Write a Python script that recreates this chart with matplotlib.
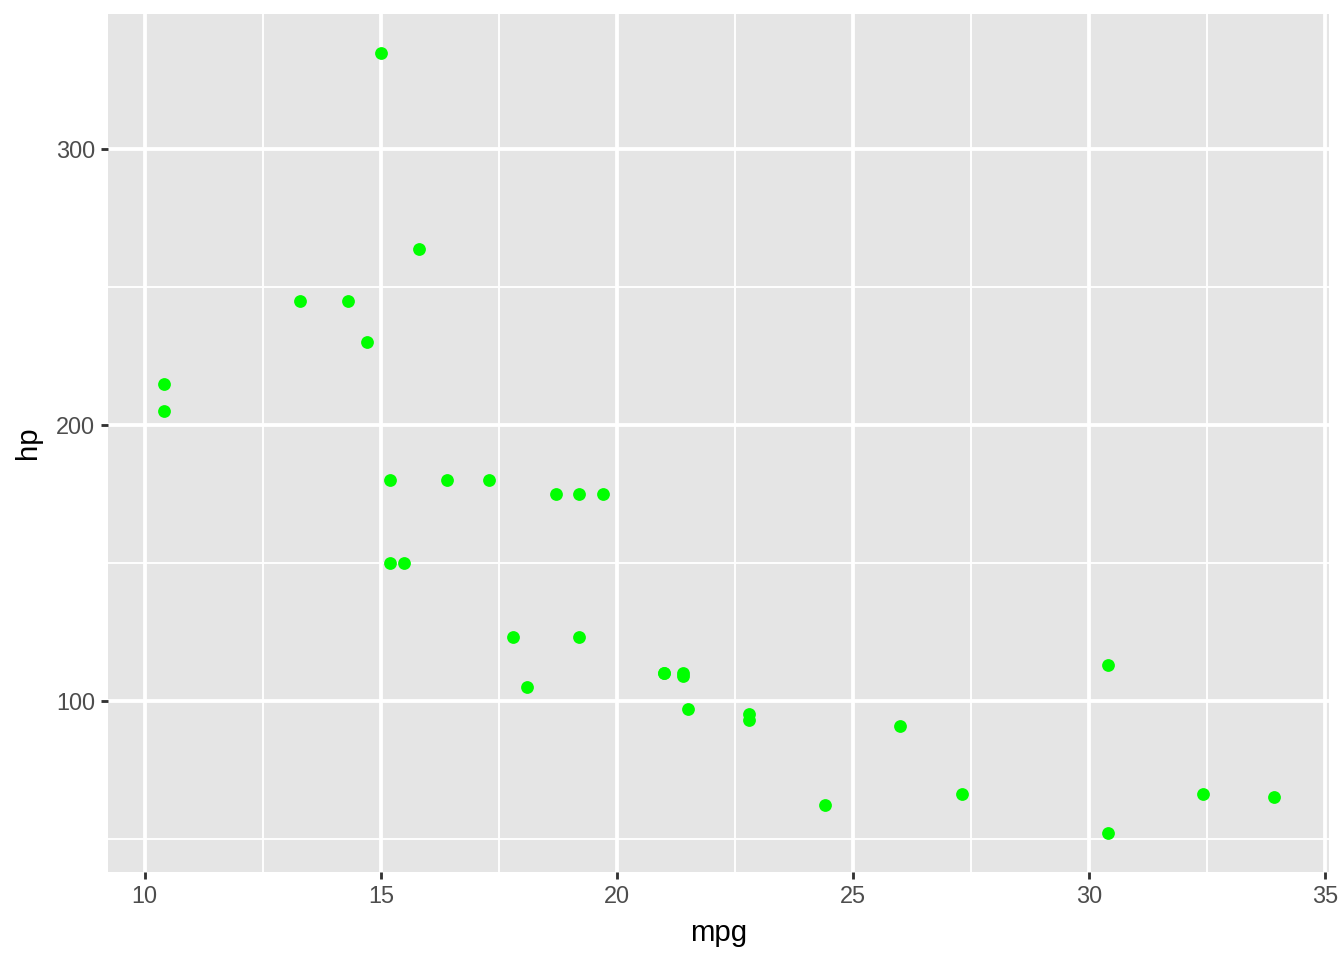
import matplotlib
matplotlib.use("Agg")
import matplotlib.pyplot as plt

# mpg / hp values
mpg = [21.0, 21.0, 22.8, 21.4, 18.7, 18.1, 14.3, 24.4, 22.8, 19.2, 17.8,
       16.4, 17.3, 15.2, 10.4, 10.4, 14.7, 32.4, 30.4, 33.9, 21.5, 15.5,
       15.2, 13.3, 19.2, 27.3, 26.0, 30.4, 15.8, 19.7, 15.0, 21.4]
hp = [110, 110, 93, 110, 175, 105, 245, 62, 95, 123, 123,
      180, 180, 180, 205, 215, 230, 66, 52, 65, 97, 150,
      150, 245, 175, 66, 91, 113, 264, 175, 335, 109]

x_major = [10, 15, 20, 25, 30, 35]
x_minor = [12.5, 17.5, 22.5, 27.5, 32.5]
y_major = [100, 200, 300]
y_minor = [50, 150, 250]

plt.rcParams['font.family'] = ['Liberation Sans', 'DejaVu Sans']

fig = plt.figure(figsize=(7, 5), dpi=192)
ax = fig.add_axes([108 / 1344, 1 - 872 / 960, (1329 - 108) / 1344, (872 - 14) / 960])
ax.set_facecolor('#E5E5E5')

# ggplot style expansion (5% each side)
xr = max(mpg) - min(mpg)
yr = max(hp) - min(hp)
ax.set_xlim(min(mpg) - 0.05 * xr, max(mpg) + 0.05 * xr)
ax.set_ylim(min(hp) - 0.05 * yr, max(hp) + 0.05 * yr)

for v in x_minor:
    ax.axvline(v, color='white', lw=0.71, zorder=1)
for v in y_minor:
    ax.axhline(v, color='white', lw=0.71, zorder=1)
for v in x_major:
    ax.axvline(v, color='white', lw=1.42, zorder=1)
for v in y_major:
    ax.axhline(v, color='white', lw=1.42, zorder=1)

ax.scatter(mpg, hp, s=23, color='#00FF00', linewidths=0, zorder=3)

ax.set_xticks(x_major)
ax.set_yticks(y_major)
ax.tick_params(axis='both', colors='#333333', labelsize=8.8, length=2.75,
               width=1.07, pad=2.2)
ax.tick_params(axis='both', labelcolor='#4D4D4D')
for s in ax.spines.values():
    s.set_visible(False)

ax.set_xlabel('mpg', fontsize=11, color='black', labelpad=4)
ax.set_ylabel('hp', fontsize=11, color='black', labelpad=5)

fig.savefig('out.png', dpi=192)
